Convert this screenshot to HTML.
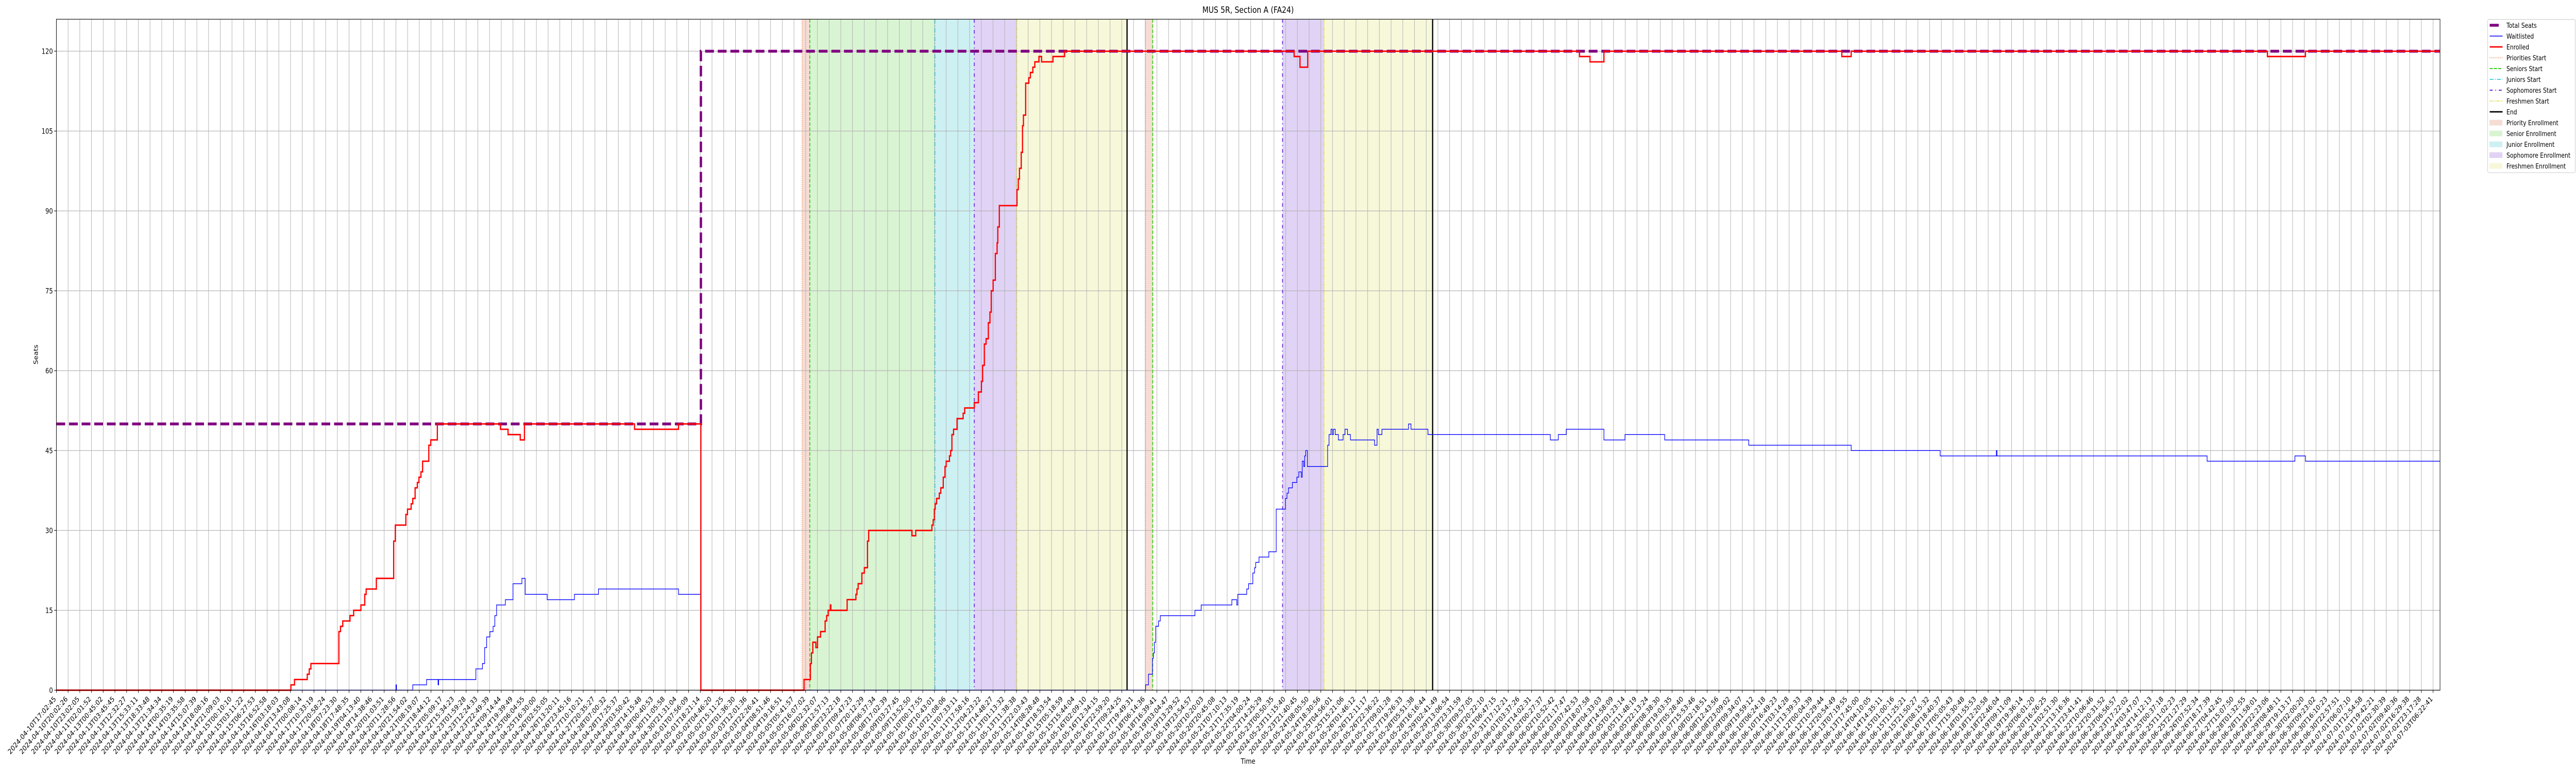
<!DOCTYPE html>
<html><head><meta charset="utf-8"><title>MUS 5R, Section A (FA24)</title>
<style>
html,body{margin:0;padding:0;background:#fff;width:100%;height:100%;overflow:hidden;}
svg{display:block;font-family:"DejaVu Sans","Liberation Sans",sans-serif;overflow:hidden;width:100vw;height:100vh;}
</style></head>
<body>
<svg id="chart" viewBox="0 0 6000 1500" preserveAspectRatio="none" xmlns="http://www.w3.org/2000/svg">
<rect x="0" y="0" width="6000" height="1500" fill="#fff"/>
<text x="2907" y="25" text-anchor="middle" font-size="16.7" fill="#000">MUS 5R, Section A (FA24)</text>
<g id="shades"></g>
<g id="grid"></g>
<g id="vlines"></g>
<g id="series"></g>
<rect x="131.3" y="37.3" width="5552" height="1302" fill="none" stroke="#000" stroke-width="1.1"/>
<g id="axes"></g>
<text x="2907" y="1482" text-anchor="middle" font-size="13.9">Time</text>
<text x="0" y="0" transform="translate(88,688) rotate(-90)" text-anchor="middle" font-size="13.9">Seats</text>
<g id="legend"></g>
</svg>
<script>
// ---- data ----
const seatsU = [0, 55.05];
const seatsV = [50, 120];
const enrolledU = [0,20.03,20.34,21.43,21.6,21.74,24.13,24.27,24.46,25.08,25.39,26.01,26.34,26.46,27.33,28.81,28.95,29.85,29.99,30.3,30.44,30.64,30.83,30.97,31.14,31.28,31.81,31.98,32.54,37.93,38.58,39.62,39.98,49.38,53.14,55.05,63.86,64.4,64.49,64.61,64.87,65.01,65.27,65.66,65.79,65.92,66.11,66.15,67.54,68.29,68.38,68.48,68.8,69.01,69.28,69.38,73.08,73.4,74.78,74.89,74.99,75.06,75.18,75.41,75.54,75.75,75.9,76.0,76.28,76.38,76.49,76.63,76.93,77.45,77.58,78.4,78.75,79.01,79.11,79.26,79.41,79.6,79.74,79.85,80.01,80.2,80.35,80.41,80.54,82.05,82.16,82.26,82.41,82.52,82.6,82.79,83.06,83.19,83.4,83.57,83.92,84.15,85.12,86.11,105.72,106.22,106.88,130.1,130.99,132.18,152.5,153.3,188.85,192.1];
const enrolledV = [0,1,2,3,4,5,11,12,13,14,15,16,18,19,21,28,31,33,34,35,36,38,39,40,41,43,46,47,50,49,48,47,50,49,50,0,2,5,7,9,8,10,11,13,14,15,16,15,17,18,19,20,22,23,28,30,29,30,31,32,34,35,36,37,38,40,42,43,44,45,48,49,51,52,53,54,56,58,61,65,66,69,71,75,77,82,84,87,91,94,96,98,101,106,108,114,115,116,117,118,119,118,119,120,119,117,120,119,118,120,119,120,119,120];
const waitU = [0,29.0,29.05,30.44,31.62,32.6,32.65,35.83,36.39,36.58,36.75,37.03,37.3,37.45,37.6,38.35,39.0,39.76,40.04,41.92,44.25,46.3,53.14,55.05,93.03,93.28,93.62,93.7,93.79,93.89,94.14,94.29,97.25,97.78,100.4,100.82,100.91,101.67,101.83,102.19,102.34,102.44,102.72,103.56,104.19,104.98,105.11,105.24,105.57,105.95,106.12,106.33,106.41,106.54,106.62,106.71,106.85,108.58,108.7,108.87,108.98,109.08,109.23,109.5,109.9,110.07,110.28,110.53,112.59,112.8,112.91,113.22,115.49,115.7,117.15,127.6,128.28,128.96,132.18,133.98,137.37,144.55,153.3,160.9,165.7,165.75,183.7,191.2,192.1];
const waitV = [0,1,0,1,2,1,2,4,5,8,10,11,12,14,16,17,20,21,18,17,18,19,18,0,1,3,6,7,9,12,13,14,15,16,17,16,18,19,20,22,23,24,25,26,34,36,37,38,39,40,41,40,43,42,44,45,42,46,48,49,48,49,48,47,48,49,48,47,46,49,48,49,50,49,48,47,48,49,47,48,47,46,45,44,45,44,43,44,43];
const shadeStart = [63.69, 64.35, 75.04, 78.40, 82.04, 93.03, 104.73, 108.28];
const shadeEnd   = [64.35, 75.04, 78.40, 82.04, 91.45, 93.64, 108.28, 117.55];
const shadeKind  = ["priority","senior","junior","sophomore","freshmen","priority","sophomore","freshmen"];
const lineAt   = [63.69, 64.35, 75.04, 78.40, 82.04, 91.45, 93.03, 93.64, 104.73, 108.28, 117.55];
const lineKind = ["priority","senior","junior","sophomore","freshmen","end","priority","senior","sophomore","freshmen","end"];
const yTicks = [0,15,30,45,60,75,90,105,120];
const tickCount = 204;
const knownLabels = ["2024-04-10T17:02:45","2024-04-10T20:02:26","2024-04-10T23:02:05","2024-04-11T02:01:52","2024-04-13T00:45:02","2024-04-13T03:45:45","2024-04-13T12:32:27","2024-04-13T15:33:11","2024-04-13T18:33:48","2024-04-13T21:34:34","2024-04-14T00:35:19","2024-04-14T03:35:58","2024-04-14T15:07:39","2024-04-14T18:08:16","2024-04-14T21:09:03","2024-04-15T00:10:10","2024-04-15T03:11:22","2024-04-15T06:27:53"];
const knownTail = ["2024-06-29T19:13:17","2024-06-30T02:00:20","2024-06-30T09:23:02","2024-06-30T16:10:23","2024-06-30T22:57:51","2024-07-01T06:07:10","2024-07-01T12:54:58","2024-07-01T19:42:21","2024-07-02T02:30:39","2024-07-02T09:40:36","2024-07-02T16:29:38","2024-07-02T23:17:28","2024-07-03T06:22:41"];

// ---- scales ----
const X0 = 131.3, STEP = 27.27, XR = 5683.3, Y0 = 1339.3, YT = 37.3, PY = 10.333;
function xs(u){ return X0 + u*STEP; }
function ys(v){ return Y0 - v*PY; }
const NS = "http://www.w3.org/2000/svg";
function mk(tag, attrs, parent){ const e = document.createElementNS(NS, tag); for (const k in attrs) e.setAttribute(k, attrs[k]); parent.appendChild(e); return e; }

const shadeColor = {priority:"#f5ddd3", senior:"#d9f4d3", junior:"#cdf0f3", sophomore:"#e0d3f5", freshmen:"#f7f8d9"};
const lineStyle = {
  priority:{c:"#ff6f3c",w:1.4,d:"1.5,2.5"},
  senior:{c:"#33cc11",w:2,d:"7,3"},
  junior:{c:"#1cc3d4",w:1.5,d:"9,3,2,3"},
  sophomore:{c:"#6a2bd9",w:2,d:"7,6,2,6"},
  freshmen:{c:"#dede30",w:1.5,d:"6,2,2,2,2,2"},
  end:{c:"#000",w:2.8,d:""}
};

const gS = document.getElementById("shades");
for (let i=0;i<shadeStart.length;i++){
  const r = mk("rect",{x:xs(shadeStart[i]),y:YT,width:xs(shadeEnd[i])-xs(shadeStart[i]),height:Y0-YT,fill:shadeColor[shadeKind[i]]},gS);
  
  
}
const gG = document.getElementById("grid");
for (let i=0;i<tickCount;i++){
  const l = mk("line",{x1:xs(i),x2:xs(i),y1:YT,y2:Y0,stroke:"#b0b0b0","stroke-width":1.1},gG);
  
  
}
for (const t of yTicks){
  const l = mk("line",{x1:X0,x2:XR,y1:ys(t),y2:ys(t),stroke:"#b0b0b0","stroke-width":1.1},gG);
  
  
}
const gV = document.getElementById("vlines");
for (let i=0;i<lineAt.length;i++){
  const s = lineStyle[lineKind[i]];
  const a = {x1:xs(lineAt[i]),x2:xs(lineAt[i]),y1:YT,y2:Y0,stroke:s.c,"stroke-width":s.w};
  if (s.d) a["stroke-dasharray"] = s.d;
  const l = mk("line",a,gV);
  
  
}
function stepPath(U,V,uEnd){
  let d = "M"+xs(U[0]).toFixed(2)+","+ys(V[0]).toFixed(2);
  for (let i=1;i<U.length;i++){ d += " H"+xs(U[i]).toFixed(2)+" V"+ys(V[i]).toFixed(2); }
  d += " H"+xs(uEnd).toFixed(2);
  return d;
}
const uEnd = (XR - X0)/STEP;
const gSer = document.getElementById("series");
const pSeats = mk("path",{d:stepPath(seatsU,seatsV,uEnd),fill:"none",stroke:"#800080","stroke-width":5.5,"stroke-dasharray":"20.5,8.9"},gSer);


const pWait = mk("path",{d:stepPath(waitU,waitV,uEnd),fill:"none",stroke:"#0000ff","stroke-width":1.4},gSer);


const pEnr = mk("path",{d:stepPath(enrolledU,enrolledV,uEnd),fill:"none",stroke:"#ff0000","stroke-width":2.8},gSer);



const gA = document.getElementById("axes");
for (const t of yTicks){
  const tk = mk("line",{x1:X0-5,x2:X0,y1:ys(t),y2:ys(t),stroke:"#000","stroke-width":1.1},gA);
  
  
  const tx = mk("text",{x:X0-8,y:ys(t)+5,"text-anchor":"end","font-size":13.9},gA);
  tx.textContent = t;
  
  
}
function pad(n){ return (n<10?"0":"")+n; }
function fmt(ms){ const d=new Date(ms); return d.getUTCFullYear()+"-"+pad(d.getUTCMonth()+1)+"-"+pad(d.getUTCDate())+"T"+pad(d.getUTCHours())+":"+pad(d.getUTCMinutes())+":"+pad(d.getUTCSeconds()); }
const tA = Date.parse(knownLabels[knownLabels.length-1]+"Z"), tB = Date.parse(knownTail[0]+"Z");
const midN = tickCount - knownLabels.length - knownTail.length;
const labels = [];
for (let i=0;i<tickCount;i++){
  if (i < knownLabels.length) labels.push(knownLabels[i]);
  else if (i >= tickCount - knownTail.length) labels.push(knownTail[i-(tickCount-knownTail.length)]);
  else { const k = i - knownLabels.length + 1; labels.push(fmt(tA + (tB-tA)*k/(midN+1))); }
}
for (let i=0;i<tickCount;i++){
  const x = xs(i);
  const tk = mk("line",{x1:x,x2:x,y1:Y0,y2:Y0+5,stroke:"#000","stroke-width":1.1},gA);
  
  
  const tx = mk("text",{x:x,y:Y0+18,"text-anchor":"end","font-size":13.9,transform:"rotate(-45 "+x+" "+(Y0+18)+")"},gA);
  tx.textContent = labels[i];
  
  
}

const gL = document.getElementById("legend");
const lb = mk("rect",{x:5794.3,y:37.7,width:204,height:297.3,rx:3,fill:"#fff",stroke:"#cccccc","stroke-width":1.1},gL);


const legNames = ["Total Seats","Waitlisted","Enrolled","Priorities Start","Seniors Start","Juniors Start","Sophomores Start","Freshmen Start","End","Priority Enrollment","Senior Enrollment","Junior Enrollment","Sophomore Enrollment","Freshmen Enrollment"];
const legKinds = ["seats","wait","enr","priority","senior","junior","sophomore","freshmen","end","band-priority","band-senior","band-junior","band-sophomore","band-freshmen"];
for (let i=0;i<legNames.length;i++){
  const cy = 49 + i*21;
  const k = legKinds[i];
  let h;
  if (k==="seats") h = mk("line",{x1:5799,x2:5820,y1:cy,y2:cy,stroke:"#800080","stroke-width":5.5},gL);
  else if (k==="wait") h = mk("line",{x1:5799,x2:5829,y1:cy,y2:cy,stroke:"#0000ff","stroke-width":1.4},gL);
  else if (k==="enr") h = mk("line",{x1:5799,x2:5829,y1:cy,y2:cy,stroke:"#ff0000","stroke-width":2.8},gL);
  else if (k.indexOf("band-")===0) h = mk("rect",{x:5799,y:cy-5,width:29,height:10,fill:shadeColor[k.slice(5)],stroke:shadeColor[k.slice(5)]},gL);
  else { const s=lineStyle[k]; const a={x1:5799,x2:5829,y1:cy,y2:cy,stroke:s.c,"stroke-width":s.w}; if(s.d)a["stroke-dasharray"]=s.d; h = mk("line",a,gL); }
  
  
  const t = mk("text",{x:5838,y:cy+5,"font-size":13},gL);
  t.textContent = legNames[i];
  
  
}
</script>
</body></html>
